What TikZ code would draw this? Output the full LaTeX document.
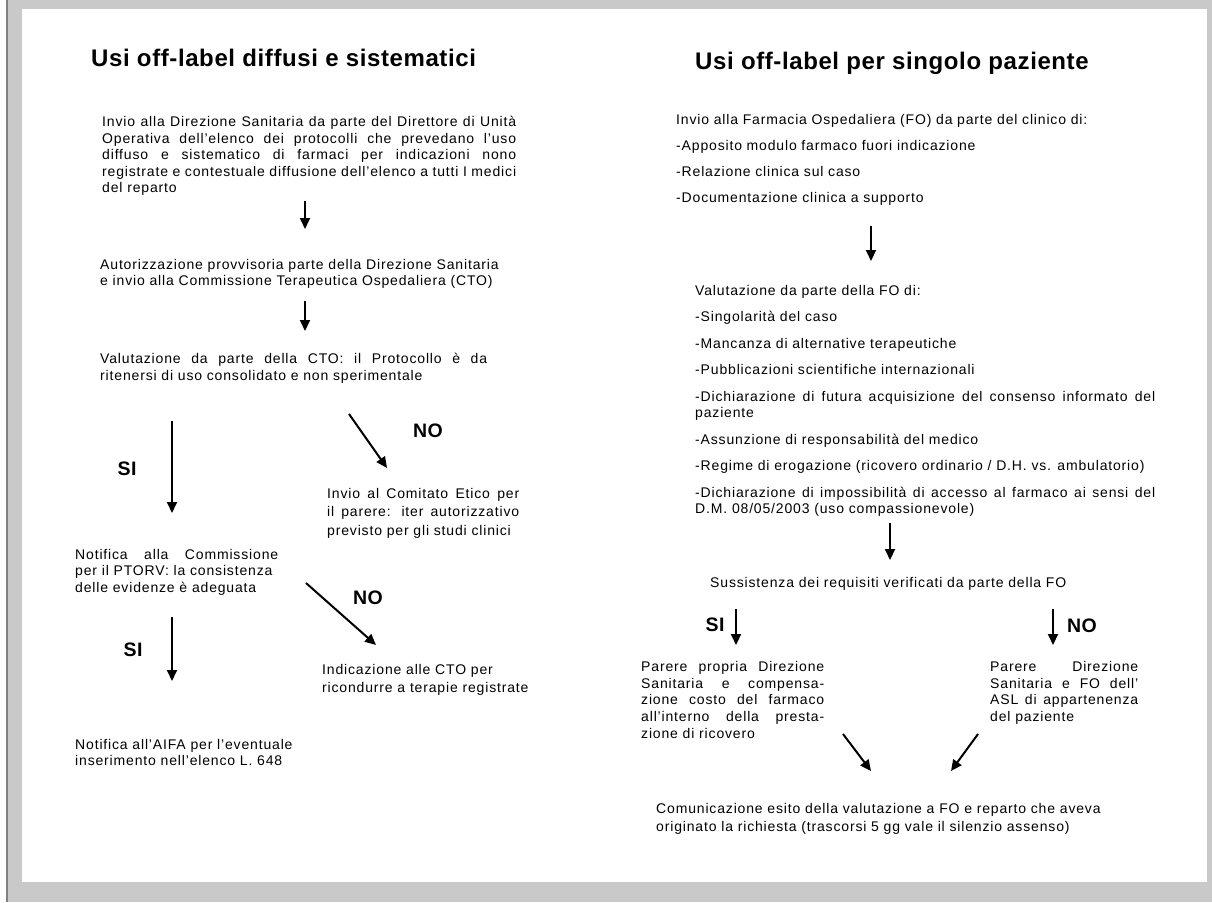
\documentclass[tikz,border=0pt]{standalone}
\usepackage{fontspec}
\setmainfont{Liberation Sans}
\newfontfamily\bodyfont[LetterSpace=6]{Liberation Sans}
\newfontfamily\headfont[LetterSpace=2.5]{Liberation Sans}
\usetikzlibrary{arrows.meta}
\definecolor{frameg}{HTML}{C9C9C9}
\definecolor{edgeg}{HTML}{808080}
\hyphenpenalty=10000
\exhyphenpenalty=10000
\tikzset{
  txt/.style={anchor=north west, inner sep=0pt, align=justify, font=\bodyfont\fontsize{14}{16.5}\selectfont},
  plain/.style={anchor=north west, inner sep=0pt, align=left, font=\bodyfont\fontsize{14}{16.5}\selectfont},
  heading/.style={anchor=base west, inner sep=0pt, font=\headfont\bfseries\fontsize{24}{27}\selectfont},
  lbl/.style={anchor=center, inner sep=0pt, font=\headfont\bfseries\fontsize{19.5}{22}\selectfont},
  arr/.style={line width=2pt, -{Triangle[width=10pt,length=11pt]}},
}
\begin{document}
\begin{tikzpicture}[x=1pt,y=-1pt]
\useasboundingbox (0,0) rectangle (1212,902);
\fill[white] (0,0) rectangle (1212,902);
\fill[frameg] (7,0) rectangle (1212,902);
\fill[edgeg] (6,0) rectangle (7.6,902);
\fill[white] (22,8.7) rectangle (1207,882);

% ---------------- left column ----------------
\node[heading] (tL) at (91,66) {Usi off-label diffusi e sistematici};

\node[txt, text width=414pt] (pL1) at (102,116) {Invio alla Direzione Sanitaria da parte del Direttore di Unità\linebreak Operativa dell’elenco dei protocolli che prevedano l’uso\linebreak diffuso e sistematico di farmaci per indicazioni nono\linebreak registrate e contestuale diffusione dell’elenco a tutti I medici\linebreak del reparto};

\node[plain] (pL2) at (100,259) {Autorizzazione provvisoria parte della Direzione Sanitaria\\e invio alla Commissione Terapeutica Ospedaliera (CTO)};

\node[txt, text width=387pt] (pL3) at (100,353) {Valutazione da parte della CTO: il Protocollo è da\linebreak ritenersi di uso consolidato e non sperimentale};

\node[txt, text width=192pt, font=\bodyfont\fontsize{14}{18.5}\selectfont] (pL4) at (327,488) {Invio al Comitato Etico per\linebreak il parere: iter autorizzativo\linebreak previsto per gli studi clinici};

\node[txt, text width=203pt] (pL5) at (75,549) {Notifica alla Commissione\linebreak per il PTORV: la consistenza\\delle evidenze è adeguata};

\node[plain, font=\bodyfont\fontsize{14}{18}\selectfont] (pL6) at (322,664) {Indicazione alle CTO per\\ricondurre a terapie registrate};

\node[plain] (pL7) at (75,739) {Notifica all’AIFA per l’eventuale\\inserimento nell’elenco L. 648};

\coordinate (a1s) at (305,201); \coordinate (a1e) at (305,229);
\coordinate (a2s) at (305,301); \coordinate (a2e) at (305,331);
\coordinate (s1s) at (172,421); \coordinate (s1e) at (172,513);
\coordinate (n1s) at (349,414); \coordinate (n1e) at (387,468);
\coordinate (n2s) at (306,583); \coordinate (n2e) at (376,645);
\coordinate (s2s) at (172,617); \coordinate (s2e) at (172,681);
\draw[arr] (a1s) -- (a1e);
\draw[arr] (a2s) -- (a2e);
\draw[arr] (s1s) -- (s1e);
\draw[arr] (n1s) -- (n1e);
\draw[arr] (n2s) -- (n2e);
\draw[arr] (s2s) -- (s2e);
\node[lbl] (si1) at (127,469) {SI};
\node[lbl] (no1) at (428,431) {NO};
\node[lbl] (no2) at (368,598) {NO};
\node[lbl] (si2) at (133,650) {SI};

% ---------------- right column ----------------
\node[heading] (tR) at (695,69) {Usi off-label per singolo paziente};

\node[plain, text width=500pt, execute at begin node={\setlength{\parskip}{9.5pt}}] (pR1) at (676,114) {Invio alla Farmacia Ospedaliera (FO) da parte del clinico di:\par
-Apposito modulo farmaco fuori indicazione\par
-Relazione clinica sul caso\par
-Documentazione clinica a supporto};

\node[txt, text width=460pt, execute at begin node={\setlength{\parskip}{10pt}}] (pR2) at (695,285) {Valutazione da parte della FO di:\par
-Singolarità del caso\par
-Mancanza di alternative terapeutiche\par
-Pubblicazioni scientifiche internazionali\par
-Dichiarazione di futura acquisizione del consenso informato del\linebreak paziente\par
-Assunzione di responsabilità del medico\par
-Regime di erogazione (ricovero ordinario / D.H. vs. ambulatorio)\par
-Dichiarazione di impossibilità di accesso al farmaco ai sensi del\linebreak D.M. 08/05/2003 (uso compassionevole)};

\node[plain] (pR3) at (710,577) {Sussistenza dei requisiti verificati da parte della FO};

\node[txt, text width=183pt, font=\bodyfont\fontsize{14}{16.7}\selectfont] (pR4) at (641,661) {Parere propria Direzione\linebreak Sanitaria e compensa-\linebreak zione costo del farmaco\linebreak all’interno della presta-\linebreak zione di ricovero};

\node[txt, text width=148pt, font=\bodyfont\fontsize{14}{16.7}\selectfont] (pR5) at (990,661) {Parere Direzione\linebreak Sanitaria e FO dell’\linebreak ASL di appartenenza\linebreak del paziente};

\node[plain, font=\bodyfont\fontsize{14}{18.5}\selectfont] (pR6) at (656,803) {Comunicazione esito della valutazione a FO e reparto che aveva\\originato la richiesta (trascorsi 5 gg vale il silenzio assenso)};

\coordinate (r1s) at (871,226); \coordinate (r1e) at (871,261);
\coordinate (r2s) at (890,523); \coordinate (r2e) at (890,560);
\coordinate (r3s) at (736,609); \coordinate (r3e) at (736,645);
\coordinate (r4s) at (1053,609); \coordinate (r4e) at (1053,645);
\coordinate (r5s) at (843,734); \coordinate (r5e) at (871,771);
\coordinate (r6s) at (978,734); \coordinate (r6e) at (951,771);
\draw[arr] (r1s) -- (r1e);
\draw[arr] (r2s) -- (r2e);
\draw[arr] (r3s) -- (r3e);
\draw[arr] (r4s) -- (r4e);
\draw[arr] (r5s) -- (r5e);
\draw[arr] (r6s) -- (r6e);
\node[lbl] (si3) at (715,625) {SI};
\node[lbl] (no3) at (1082,626) {NO};
\end{tikzpicture}
\end{document}
